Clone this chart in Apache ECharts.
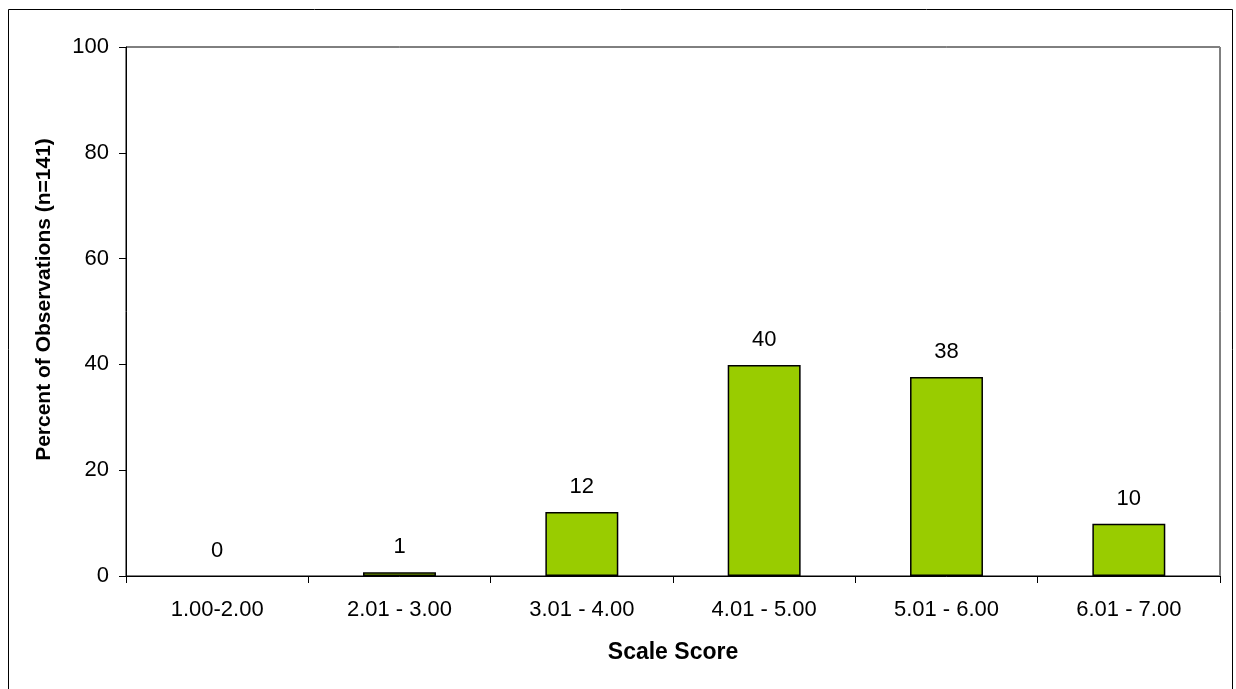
<!DOCTYPE html>
<html>
<head>
<meta charset="utf-8">
<script src="https://cdn.jsdelivr.net/npm/echarts@6/dist/echarts.min.js"></script>
<style>html,body{margin:0;padding:0;background:#fff}#c{width:1236px;height:689px}</style>
</head>
<body>
<div id="c"></div>
<script>
const categories = ['1.00-2.00', '2.01 - 3.00', '3.01 - 4.00', '4.01 - 5.00', '5.01 - 6.00', '6.01 - 7.00'];
const percentValues = [0, 0.7, 12.1, 39.9, 37.6, 9.9];
const yAxisTitle = 'Percent of Observations (n=141)';
const xAxisTitle = 'Scale Score';

const chart = echarts.init(document.getElementById('c'), null, {renderer: 'canvas'});
const font = '"Liberation Sans", Arial, sans-serif';
chart.setOption({
  animation: false,
  graphic: [{
    type: 'rect', shape: {x: 8.5, y: 9.5, width: 1224, height: 690},
    style: {fill: 'none', stroke: '#000', lineWidth: 1}, silent: true
  }, {
    type: 'line', shape: {x1: 1219.5, y1: 47, x2: 1219.5, y2: 576},
    style: {stroke: '#808080', lineWidth: 1}, silent: true, z: 10
  }],
  grid: {left: 126, right: 16, top: 47, bottom: 113, show: true, borderColor: '#000', borderWidth: 1},
  xAxis: {
    type: 'category', data: categories,
    name: xAxisTitle, nameLocation: 'middle', nameGap: 65,
    nameTextStyle: {fontFamily: font, fontSize: 23, fontWeight: 'bold', color: '#000'},
    axisLine: {lineStyle: {color: '#000', width: 1}},
    axisTick: {show: true, length: 7, inside: false, lineStyle: {color: '#000'}},
    axisLabel: {fontFamily: font, fontSize: 22, color: '#000', margin: 23}
  },
  yAxis: {
    type: 'value', min: 0, max: 100, interval: 20,
    name: yAxisTitle, nameLocation: 'middle', nameGap: 71,
    nameTextStyle: {fontFamily: font, fontSize: 21, fontWeight: 'bold', color: '#000', padding: [0, 0, 0, 24]},
    axisLine: {show: true, lineStyle: {color: '#000', width: 1}},
    axisTick: {show: true, length: 7, lineStyle: {color: '#000'}},
    axisLabel: {fontFamily: font, fontSize: 22, color: '#000', margin: 17},
    splitLine: {show: false}
  },
  series: [{
    type: 'bar',
    data: percentValues.map(v => v === 0 ? {value: v, itemStyle: {borderWidth: 0}} : v),
    barWidth: '40%',
    itemStyle: {color: '#99CC00', borderColor: '#000', borderWidth: 1.5},
    label: {
      show: true, position: 'top', distance: 14,
      fontFamily: font, fontSize: 22, color: '#000',
      formatter: p => String(Math.round(p.value))
    }
  }]
});
</script>
</body>
</html>
